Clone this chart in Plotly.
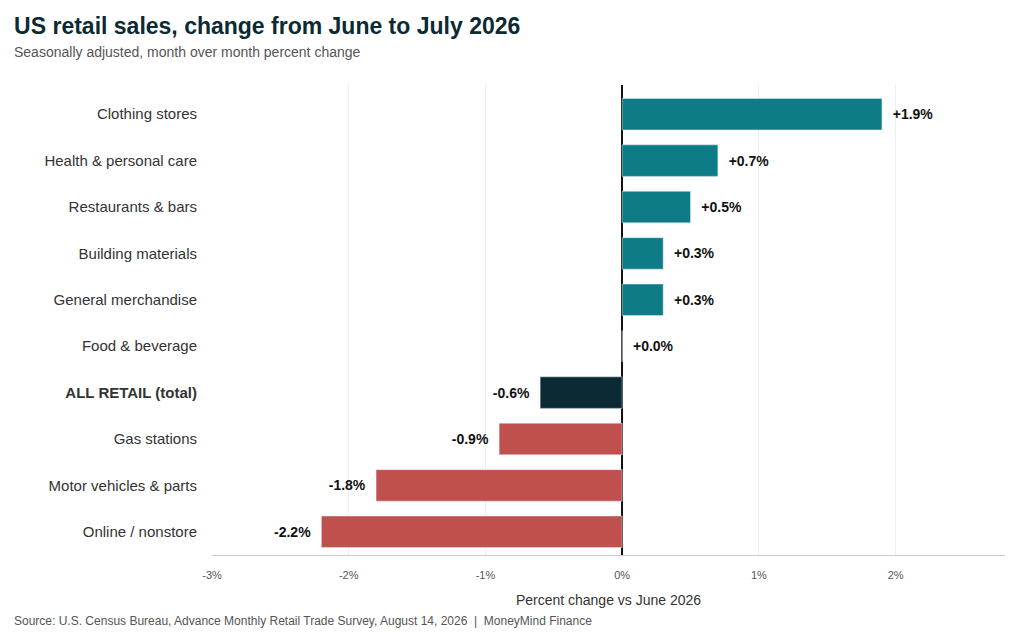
import plotly.graph_objects as go

categories = ['Clothing stores', 'Health & personal care', 'Restaurants & bars', 'Building materials',
              'General merchandise', 'Food & beverage', 'ALL RETAIL (total)', 'Gas stations',
              'Motor vehicles & parts', 'Online / nonstore']
values = [1.9, 0.7, 0.5, 0.3, 0.3, 0.0, -0.6, -0.9, -1.8, -2.2]
tick_vals = [-3, -2, -1, 0, 1, 2]
tick_text = ['-3%', '-2%', '-1%', '0%', '1%', '2%']

colors = []
for c, v in zip(categories, values):
    if c.startswith('ALL RETAIL'):
        colors.append('#0b2a33')
    elif v >= 0:
        colors.append('#0e7c86')
    else:
        colors.append('#c0504d')

pad = '\u00a0\u00a0'
labels = [(pad + '<b>%+.1f%%</b>' % v) if v >= 0 else ('<b>%+.1f%%</b>' % v + pad) for v in values]
ticklabels = ['<b>' + c + '</b>' if c.startswith('ALL RETAIL') else c for c in categories]

fig = go.Figure(go.Bar(x=values, y=categories, orientation='h', marker_color=colors,
                       text=labels, textposition='outside', cliponaxis=False,
                       textfont=dict(size=14, color='#111111'), width=0.68, hoverinfo='skip'))

fig.update_layout(
    width=1016, height=632,
    font=dict(family='Liberation Sans, Arial, sans-serif', color='#333333'),
    title=dict(text='<b>US retail sales, change from June to July 2026</b>', x=0.006, y=0.971,
               xanchor='left', yanchor='middle', font=dict(size=23, color='#0b2a33')),
    margin=dict(l=204, r=19, t=77, b=85),
    plot_bgcolor='white', paper_bgcolor='white', showlegend=False,
    xaxis=dict(range=[-3, 2.8], tickvals=tick_vals, ticktext=tick_text, showgrid=True,
               gridcolor='#eeeeee', zeroline=True, zerolinecolor='#111111', zerolinewidth=1.5,
               showline=True, linecolor='#cccccc', ticks='', tickfont=dict(size=11, color='#555555'),
               ticklabelstandoff=10,
               title=dict(text='Percent change vs June 2026', font=dict(size=14, color='#333333'),
                          standoff=14)),
    yaxis=dict(categoryorder='array', categoryarray=categories[::-1], tickmode='array',
               tickvals=categories, ticktext=ticklabels, tickfont=dict(size=15, color='#333333'),
               ticks='', ticklabelstandoff=14, range=[-0.5, 9.63]),
    annotations=[
        dict(text='Seasonally adjusted, month over month percent change', xref='paper', yref='paper',
             x=-0.2522, y=1.070, xanchor='left', yanchor='middle', showarrow=False,
             font=dict(size=14, color='#555555')),
        dict(text='Source: U.S. Census Bureau, Advance Monthly Retail Trade Survey, August 14, 2026  |  MoneyMind Finance',
             xref='paper', yref='paper', x=-0.2522, y=-0.140, xanchor='left', yanchor='middle',
             showarrow=False, font=dict(size=12, color='#555555')),
    ],
)

fig.write_html('out.html')
